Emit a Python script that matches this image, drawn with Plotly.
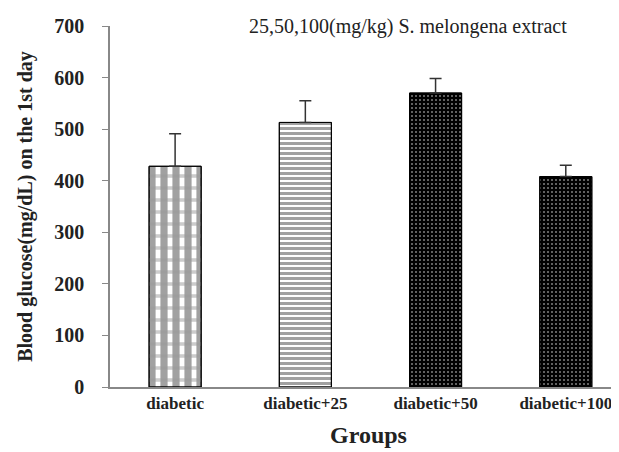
import plotly.graph_objects as go

groups = ["diabetic", "diabetic+25", "diabetic+50", "diabetic+100"]
glucose = [428, 513, 570, 408]
sem = [63, 42, 28, 22]

pat_shapes = ["|", "-", ".", "."]
pat_fg = ["black", "black", "white", "white"]
pat_bg = ["white", "white", "black", "black"]
pat_size = [12, 5, 4, 4]
pat_solid = [0.6, 0.6, 0.2, 0.2]

serif = "Liberation Serif"

fig = go.Figure()
fig.add_trace(go.Bar(
    x=groups, y=glucose, width=0.4,
    marker=dict(
        color=pat_bg,
        line=dict(color="black", width=1),
        pattern=dict(shape=pat_shapes, fgcolor=pat_fg, bgcolor=pat_bg,
                     size=pat_size, solidity=pat_solid, fillmode="overlay"),
    ),
    showlegend=False,
))
# grey horizontal bands of the checkered fill on the first group
fig.add_trace(go.Bar(
    x=groups[:1], y=glucose[:1], width=0.4,
    marker=dict(
        color="rgba(0,0,0,0)",
        line=dict(color="rgba(0,0,0,0)", width=0),
        pattern=dict(shape="-", fgcolor="#9a9a9a", bgcolor="rgba(0,0,0,0)",
                     size=12, solidity=0.3, fillmode="overlay"),
    ),
    showlegend=False, hoverinfo="skip",
))
fig.add_trace(go.Bar(
    x=groups, y=glucose, width=0.4,
    marker=dict(color="rgba(0,0,0,0)", line=dict(color="black", width=1)),
    error_y=dict(type="data", array=sem, arrayminus=[0] * len(sem),
                 symmetric=False, color="#333333", thickness=1.5, width=6),
    showlegend=False,
))

fig.update_layout(
    width=619, height=452, barmode="overlay",
    margin=dict(l=102, r=0, t=18, b=73),
    paper_bgcolor="white", plot_bgcolor="white",
    font=dict(family=serif, color="#222222"),
    xaxis=dict(range=[-0.5, 3.47], showline=True, linecolor="#888888", linewidth=1.5,
               ticks="", tickfont=dict(size=17, family=serif, weight="bold"),
               title=dict(text="<b>Groups</b>", font=dict(size=24, family=serif), standoff=14)),
    yaxis=dict(range=[0, 700], dtick=100, showline=True, linecolor="#888888", linewidth=1.5,
               ticks="outside", ticklen=6, tickcolor="#888888", showgrid=False, zeroline=False,
               ticklabelstandoff=14,
               tickfont=dict(size=20, family=serif, weight="bold"),
               title=dict(text="<b>Blood glucose(mg/dL) on the 1st day</b>",
                          font=dict(size=20, family=serif), standoff=16)),
    annotations=[dict(text="25,50,100(mg/kg) S. melongena extract", x=0.577, y=1.0,
                      xref="paper", yref="paper", xanchor="center", yanchor="middle",
                      showarrow=False, font=dict(size=20, family=serif, color="#222222"))],
)
fig.write_html("out.html")
